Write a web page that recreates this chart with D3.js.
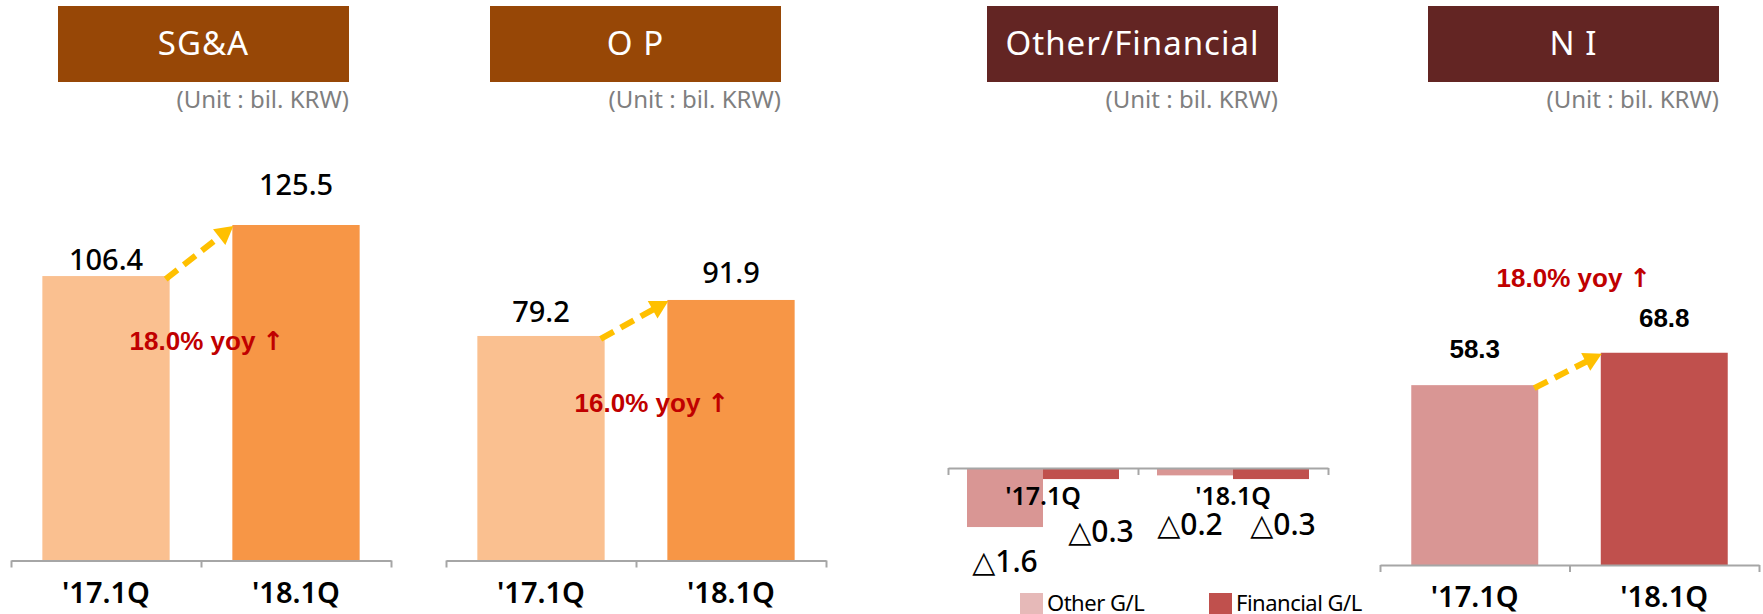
<!DOCTYPE html>
<html>
<head>
<meta charset="utf-8">
<script src="https://cdnjs.cloudflare.com/ajax/libs/d3/7.8.5/d3.min.js"></script>
<style>
  html, body { margin: 0; padding: 0; background: #fff; }
  #figure { width: 1763px; height: 614px; }
</style>
</head>
<body>
<div id="figure"></div>
<script>
// chart values
const categories = ["'17.1Q", "'18.1Q"];
const sgaValues = [106.4, 125.5];
const opValues = [79.2, 91.9];
const niValues = [58.3, 68.8];
const otherGL = [-1.6, -0.2];
const financialGL = [-0.3, -0.3];
const seriesNames = ["Other G/L", "Financial G/L"];
const titles = ["SG&A", "O P", "Other/Financial", "N I"];
const yoyLabels = ["18.0% yoy", "16.0% yoy", "18.0% yoy"];
const unitLabel = "(Unit : bil. KRW)";

const roundFont = "'Noto Sans', 'DejaVu Sans', sans-serif";
const squareFont = "'Liberation Sans', Arial, 'DejaVu Sans', sans-serif";

document.addEventListener("DOMContentLoaded", () => {
  const svg = d3.select("#figure").append("svg")
                .attr("width", 1763)
                .attr("height", 614);

  // ---- title boxes + unit text
  const boxX = [58, 490, 987, 1428];
  const boxFill = ["#974706", "#974706", "#632523", "#632523"];
  const boxW = 291, boxH = 76;

  titles.forEach((t, i) => {
    svg.append("rect")
       .attr("x", boxX[i]).attr("y", 6)
       .attr("width", boxW).attr("height", boxH)
       .attr("fill", boxFill[i]);
    svg.append("text")
       .attr("x", boxX[i] + boxW / 2).attr("y", 55)
       .attr("text-anchor", "middle")
       .attr("fill", "#fff")
       .style("font-family", roundFont)
       .style("font-size", "33px")
       .style("letter-spacing", "1px")
       .text(t);
    svg.append("text")
       .attr("x", boxX[i] + boxW).attr("y", 108)
       .attr("text-anchor", "end")
       .attr("fill", "#7f7f7f")
       .style("font-family", roundFont)
       .style("font-size", "24px")
       .text(unitLabel);
  });

  // ---- simple two-bar panels
  const panels = [
    { values: sgaValues, x0: 11, x1: 391, base: 560.5, yMax: 150, top: 159.5,
      colors: ["#FAC090", "#F79646"], labelGap: [6, 30], labelFont: roundFont, labelSize: 29,
      yoy: yoyLabels[0], yoyX: 207, yoyY: 350 },
    { values: opValues, x0: 446, x1: 826, base: 560.5, yMax: 100, top: 277,
      colors: ["#FAC090", "#F79646"], labelGap: [14, 17], labelFont: roundFont, labelSize: 29,
      yoy: yoyLabels[1], yoyX: 652, yoyY: 412 },
    { values: niValues, x0: 1380, x1: 1759, base: 565, yMax: 80, top: 318.2,
      colors: ["#D99694", "#C0504D"], labelGap: [27, 26], labelFont: squareFont, labelSize: 26,
      labelWeight: "bold", yoy: yoyLabels[2], yoyX: 1574, yoyY: 287 }
  ];

  panels.forEach(p => {
    const g = svg.append("g");

    const x = d3.scaleBand()
                .domain(categories)
                .range([p.x0, p.x1])
                .paddingInner(0.33)
                .paddingOuter(0.165);
    const y = d3.scaleLinear()
                .domain([0, p.yMax])
                .range([p.base, p.top]);

    g.selectAll("rect.bar")
     .data(p.values)
     .join("rect")
     .attr("class", "bar")
     .attr("x", (d, i) => x(categories[i]))
     .attr("y", d => y(d))
     .attr("width", x.bandwidth())
     .attr("height", d => y(0) - y(d))
     .attr("fill", (d, i) => p.colors[i]);

    drawAxis(g, p.x0, p.x1, p.base);

    // category labels
    const catAxis = g.append("g")
       .attr("transform", "translate(0," + p.base + ")")
       .call(d3.axisBottom(x).tickSize(0));
    catAxis.select(".domain").remove();
    catAxis.selectAll("text")
       .attr("y", 42).attr("dy", 0)
       .attr("fill", "#000")
       .style("font-family", roundFont)
       .style("font-size", "29px")
       .style("font-weight", "600");

    // value labels
    g.selectAll("text.val")
     .data(p.values)
     .join("text")
     .attr("class", "val")
     .attr("x", (d, i) => x(categories[i]) + x.bandwidth() / 2)
     .attr("y", (d, i) => y(d) - p.labelGap[i])
     .attr("text-anchor", "middle")
     .attr("fill", "#000")
     .style("font-family", p.labelFont)
     .style("font-size", p.labelSize + "px")
     .style("font-weight", p.labelWeight || "500")
     .text(d => d.toFixed(1));

    // dashed growth arrow
    const sx = x(categories[0]) + x.bandwidth() - 4, sy = y(p.values[0]) + 3;
    const ex = x(categories[1]) + 1, ey = y(p.values[1]) + 1;
    const ang = Math.atan2(ey - sy, ex - sx);
    const head = 18;
    g.append("line")
     .attr("x1", sx).attr("y1", sy)
     .attr("x2", ex - Math.cos(ang) * (head - 2))
     .attr("y2", ey - Math.sin(ang) * (head - 2))
     .attr("stroke", "#FFC000")
     .attr("stroke-width", 6)
     .attr("stroke-dasharray", "15 8");
    g.append("path")
     .attr("d", "M0,0 L" + (-head) + "," + (-10) + " L" + (-head) + "," + 10 + " Z")
     .attr("transform", "translate(" + ex + "," + ey + ") rotate(" + (ang * 180 / Math.PI) + ")")
     .attr("fill", "#FFC000");

    // yoy note
    const yoy = g.append("text")
     .attr("x", p.yoyX).attr("y", p.yoyY)
     .attr("text-anchor", "middle")
     .attr("fill", "#C00000")
     .style("font-family", squareFont)
     .style("font-size", "26px")
     .style("font-weight", "bold");
    yoy.append("tspan").text(p.yoy + " ");
    yoy.append("tspan").style("font-family", "'DejaVu Sans', sans-serif").text("\u2191");
  });

  // ---- Other / Financial panel (negative bars)
  const of = svg.append("g");
  const ox0 = 948, ox1 = 1328, obase = 468;
  const ox = d3.scaleBand()
               .domain(categories)
               .range([ox0, ox1])
               .paddingInner(0.2)
               .paddingOuter(0.1);
  const sub = d3.scaleBand()
                .domain(seriesNames)
                .range([0, ox.bandwidth()]);
  const oy = d3.scaleLinear()
               .domain([-2, 0])
               .range([obase + 73.8, obase]);
  const barColors = ["#D99694", "#C0504D"];
  const legendColors = ["#E6B9B8", "#C0504D"];
  // label nudges so the △ labels sit as in the slide
  const labelShift = [0, 20, -5, 12];

  const rows = [];
  categories.forEach((c, i) => {
    rows.push({ cat: c, s: seriesNames[0], v: otherGL[i], k: 0 });
    rows.push({ cat: c, s: seriesNames[1], v: financialGL[i], k: 1 });
  });

  of.selectAll("rect.bar")
    .data(rows)
    .join("rect")
    .attr("class", "bar")
    .attr("x", d => ox(d.cat) + sub(d.s))
    .attr("y", oy(0))
    .attr("width", sub.bandwidth())
    .attr("height", d => oy(d.v) - oy(0))
    .attr("fill", d => barColors[d.k]);

  drawAxis(of, ox0, ox1, obase);

  const oCat = of.append("g")
     .attr("transform", "translate(0," + obase + ")")
     .call(d3.axisBottom(ox).tickSize(0));
  oCat.select(".domain").remove();
  oCat.selectAll("text")
     .attr("y", 37).attr("dy", 0)
     .attr("fill", "#000")
     .style("font-family", roundFont)
     .style("font-size", "25px")
     .style("font-weight", "600");

  of.selectAll("text.val")
    .data(rows)
    .join("text")
    .attr("class", "val")
    .attr("x", (d, i) => ox(d.cat) + sub(d.s) + sub.bandwidth() / 2 + labelShift[i])
    .attr("y", d => Math.max(oy(d.v) + 45, obase + (d.cat === categories[0] ? 74 : 67)))
    .attr("text-anchor", "middle")
    .attr("fill", "#000")
    .style("font-family", roundFont)
    .style("font-size", "30px")
    .style("font-weight", "500")
    .text(d => (d.v < 0 ? "\u25B3" : "") + Math.abs(d.v).toFixed(1));

  // legend
  const legX = [1020, 1209];
  seriesNames.forEach((s, i) => {
    of.append("rect")
      .attr("x", legX[i]).attr("y", 593)
      .attr("width", 23).attr("height", 21)
      .attr("fill", legendColors[i]);
    of.append("text")
      .attr("x", legX[i] + 27).attr("y", 611)
      .attr("fill", "#000")
      .style("font-family", roundFont)
      .style("font-size", "22px")
      .style("letter-spacing", "-0.5px")
      .text(s);
  });

  function drawAxis(g, x0, x1, yPos) {
    const edge = d3.scaleLinear().domain([0, 2]).range([x0, x1]);
    const ax = g.append("g")
       .attr("transform", "translate(0," + yPos + ")")
       .call(d3.axisBottom(edge)
               .tickValues([0, 1, 2])
               .tickSize(7)
               .tickSizeOuter(0)
               .tickFormat(() => ""));
    ax.selectAll("path, line")
      .attr("stroke", "#A6A6A6")
      .attr("stroke-width", 2);
  }
});
</script>
</body>
</html>
